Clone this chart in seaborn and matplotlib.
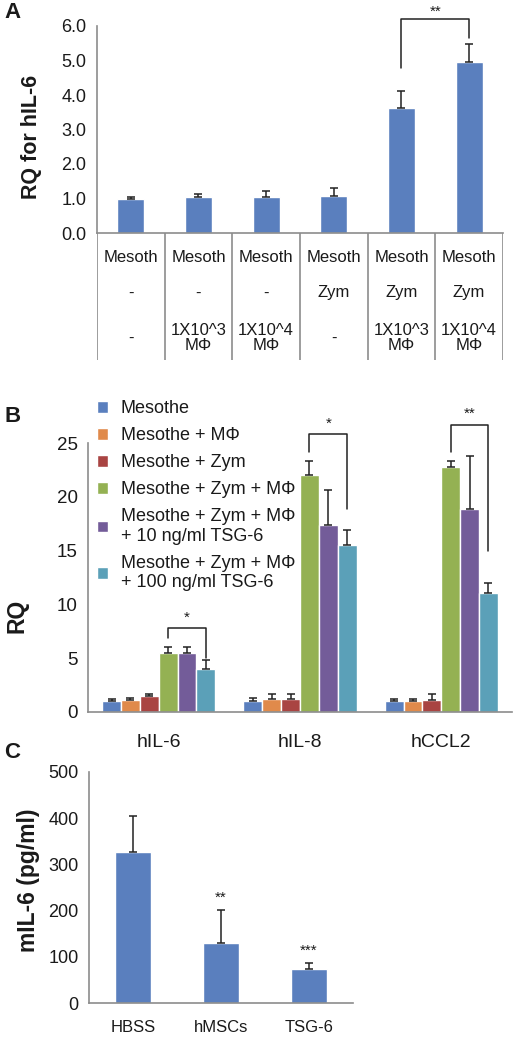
import numpy as np
import pandas as pd
import matplotlib
matplotlib.use('Agg')
import matplotlib.pyplot as plt
import seaborn as sns

# ---- panel A data
condA = ['c1', 'c2', 'c3', 'c4', 'c5', 'c6']
rqA = [1.00, 1.05, 1.05, 1.07, 3.62, 4.97]
errA = [0.05, 0.08, 0.17, 0.22, 0.50, 0.50]
rowA1 = ['Mesoth'] * 6
rowA2 = ['-', '-', '-', 'Zym', 'Zym', 'Zym']
rowA3 = ['-', '1X10^3\nMΦ', '1X10^4\nMΦ', '-', '1X10^3\nMΦ', '1X10^4\nMΦ']
sigA = (4, 5, 6.2, 4.78, 5.65, '**')

# ---- panel B data
genesB = ['hIL-6', 'hIL-8', 'hCCL2']
groupsB = ['Mesothe', 'Mesothe + MΦ', 'Mesothe + Zym', 'Mesothe + Zym + MΦ',
           'Mesothe + Zym + MΦ\n+ 10 ng/ml TSG-6', 'Mesothe + Zym + MΦ\n+ 100 ng/ml TSG-6']
rqB = [[1.02, 1.00, 1.00],
       [1.08, 1.24, 1.00],
       [1.46, 1.18, 1.10],
       [5.48, 22.06, 22.77],
       [5.45, 17.40, 18.90],
       [4.03, 15.50, 11.06]]
errB = [[0.15, 0.33, 0.18],
        [0.25, 0.40, 0.24],
        [0.20, 0.47, 0.55],
        [0.56, 1.25, 0.60],
        [0.60, 3.27, 4.86],
        [0.77, 1.45, 0.95]]
paletteB = ['#5A7FBE', '#E08A4B', '#A94442', '#94B153', '#735C99', '#5BA0B8']
# gene index, left group, right group, top, left end, right end, label
sigB = [(0, 3, 5, 7.77, 6.85, 5.0, '*'),
        (1, 3, 5, 25.8, 24.2, 18.9, '*'),
        (2, 3, 5, 26.7, 24.2, 15.0, '**')]

# ---- panel C data
groupsC = ['HBSS', 'hMSCs', 'TSG-6']
valsC = [327, 130, 73]
errC = [78, 71, 14]
starsC = ['', '**', '***']

BLUE = '#5A7FBE'
GREY = '#8c8c8c'
TXT = '#1a1a1a'

sns.set_style('white')
plt.rcParams['font.family'] = ['Liberation Sans', 'DejaVu Sans']
plt.rcParams['text.color'] = TXT
plt.rcParams['axes.labelcolor'] = TXT
plt.rcParams['xtick.color'] = GREY
plt.rcParams['ytick.color'] = GREY
plt.rcParams['xtick.labelcolor'] = TXT
plt.rcParams['ytick.labelcolor'] = TXT

W, H = 520, 1040
fig = plt.figure(figsize=(5.2, 10.4), dpi=100)


def box(l, t, r, b):
    return [l / W, 1 - b / H, (r - l) / W, (b - t) / H]


def style_axes(ax):
    sns.despine(ax=ax)
    for s in ['left', 'bottom']:
        ax.spines[s].set_color(GREY)
        ax.spines[s].set_linewidth(1.2)
    ax.set_xlabel('')
    ax.set_ylabel('')


def add_err(ax, patches, errs):
    xs = [p.get_x() + p.get_width() / 2 for p in patches]
    ys = [p.get_height() for p in patches]
    ax.errorbar(xs, ys, yerr=[np.zeros(len(errs)), errs], fmt='none',
                ecolor='#222222', elinewidth=1.1, capsize=3, capthick=1.1, zorder=3)
    return xs, ys


# ================= Panel A
axA = fig.add_axes(box(97, 26, 503, 233))
dfA = pd.DataFrame({'cond': condA, 'rq': rqA})
sns.barplot(data=dfA, x='cond', y='rq', color=BLUE, saturation=1, width=0.4,
            errorbar=None, ax=axA)
xsA, _ = add_err(axA, list(axA.patches), errA)
style_axes(axA)
axA.set_ylim(0, 6)
axA.set_xlim(-0.5, 5.5)
axA.set_yticks(np.arange(0, 6.1, 1))
axA.set_yticklabels([f'{v:.1f}' for v in np.arange(0, 6.1, 1)], fontsize=13)
axA.set_xticks([])
axA.tick_params(axis='y', length=4, width=1.1)

l, r, top, lb, rb, star = sigA
axA.plot([xsA[l], xsA[l], xsA[r], xsA[r]], [lb, top, top, rb], color='#222222',
         lw=1.1, clip_on=False)
axA.text((xsA[l] + xsA[r]) / 2, top + 0.22, star, ha='center', va='center', fontsize=11)

# table under panel A
axT = fig.add_axes(box(97, 233, 503, 360))
axT.set_xlim(-0.5, 5.5)
axT.set_ylim(127, 0)
axT.axis('off')
axT.vlines(np.arange(-0.5, 6, 1), 0, 127, color=GREY, lw=1.2)
for i in range(len(condA)):
    axT.text(i, 24, rowA1[i], ha='center', va='center', fontsize=12)
    axT.text(i, 60, rowA2[i], ha='center', va='center', fontsize=12)
    axT.text(i, 105, rowA3[i], ha='center', va='center', fontsize=12, linespacing=1.0)

fig.text(31 / W, 1 - 137 / H, 'RQ for hIL-6', rotation=90, ha='center', va='center',
         fontsize=15.5, fontweight='bold')
fig.text(4 / W, 1 - 12 / H, 'A', ha='left', va='center', fontsize=16, fontweight='bold')

# ================= Panel B
axB = fig.add_axes(box(88, 443, 512, 712))
dfB = pd.DataFrame([(genesB[j], groupsB[i], rqB[i][j])
                    for i in range(len(groupsB)) for j in range(len(genesB))],
                   columns=['gene', 'group', 'rq'])
sns.barplot(data=dfB, x='gene', y='rq', hue='group', hue_order=groupsB,
            order=genesB, palette=paletteB, saturation=1, width=0.8,
            errorbar=None, ax=axB)
bar_conts = list(axB.containers)
centersB = []
for i, cont in enumerate(bar_conts):
    xs, _ = add_err(axB, list(cont), errB[i])
    centersB.append(xs)
style_axes(axB)
axB.set_ylim(0, 25)
axB.set_xlim(-0.5, 2.5)
axB.set_yticks(range(0, 26, 5))
axB.set_yticklabels([str(v) for v in range(0, 26, 5)], fontsize=13.5)
axB.set_xticks(range(3))
axB.set_xticklabels(genesB, fontsize=14)
axB.set_xticks(np.arange(-0.5, 3, 1), minor=True)
axB.tick_params(axis='x', which='major', length=0, pad=16)
axB.tick_params(axis='x', which='minor', length=5, width=1.1)
axB.tick_params(axis='y', length=4, width=1.1)

for g, li, ri, top, lb, rb, star in sigB:
    x1, x2 = centersB[li][g], centersB[ri][g]
    axB.plot([x1, x1, x2, x2], [lb, top, top, rb], color='#222222', lw=1.1, clip_on=False)
    axB.text((x1 + x2) / 2, top + 1.0, star, ha='center', va='center', fontsize=11)

axB.legend(loc='upper left', bbox_to_anchor=(0.005, 1.185), frameon=False,
           fontsize=13, handlelength=0.6, handleheight=0.6, handletextpad=0.7,
           labelspacing=0.55, borderaxespad=0)

fig.text(17 / W, 1 - 616 / H, 'RQ', rotation=90, ha='center', va='center',
         fontsize=16.5, fontweight='bold')
fig.text(4 / W, 1 - 416 / H, 'B', ha='left', va='center', fontsize=16, fontweight='bold')

# ================= Panel C
axC = fig.add_axes(box(89, 772, 353, 1003))
dfC = pd.DataFrame({'grp': groupsC, 'val': valsC})
sns.barplot(data=dfC, x='grp', y='val', color=BLUE, saturation=1, width=0.41,
            errorbar=None, ax=axC)
xsC, ysC = add_err(axC, list(axC.patches), errC)
style_axes(axC)
axC.set_ylim(0, 500)
axC.set_xlim(-0.5, 2.5)
axC.set_yticks(range(0, 501, 100))
axC.set_yticklabels([str(v) for v in range(0, 501, 100)], fontsize=13)
axC.set_xticks(range(3))
axC.set_xticklabels(groupsC, fontsize=12)
axC.set_xticks(np.arange(-0.5, 3, 1), minor=True)
axC.tick_params(axis='x', which='major', length=0, pad=12)
axC.tick_params(axis='x', which='minor', length=5, width=1.1)
axC.tick_params(axis='y', length=4, width=1.1)
for x, y, e, s in zip(xsC, ysC, errC, starsC):
    if s:
        axC.text(x, y + e + 26, s, ha='center', va='center', fontsize=11)

fig.text(28 / W, 1 - 880 / H, 'mIL-6 (pg/ml)', rotation=90, ha='center', va='center',
         fontsize=16.5, fontweight='bold')
fig.text(4 / W, 1 - 752 / H, 'C', ha='left', va='center', fontsize=16, fontweight='bold')

fig.savefig('out.png', dpi=100)
